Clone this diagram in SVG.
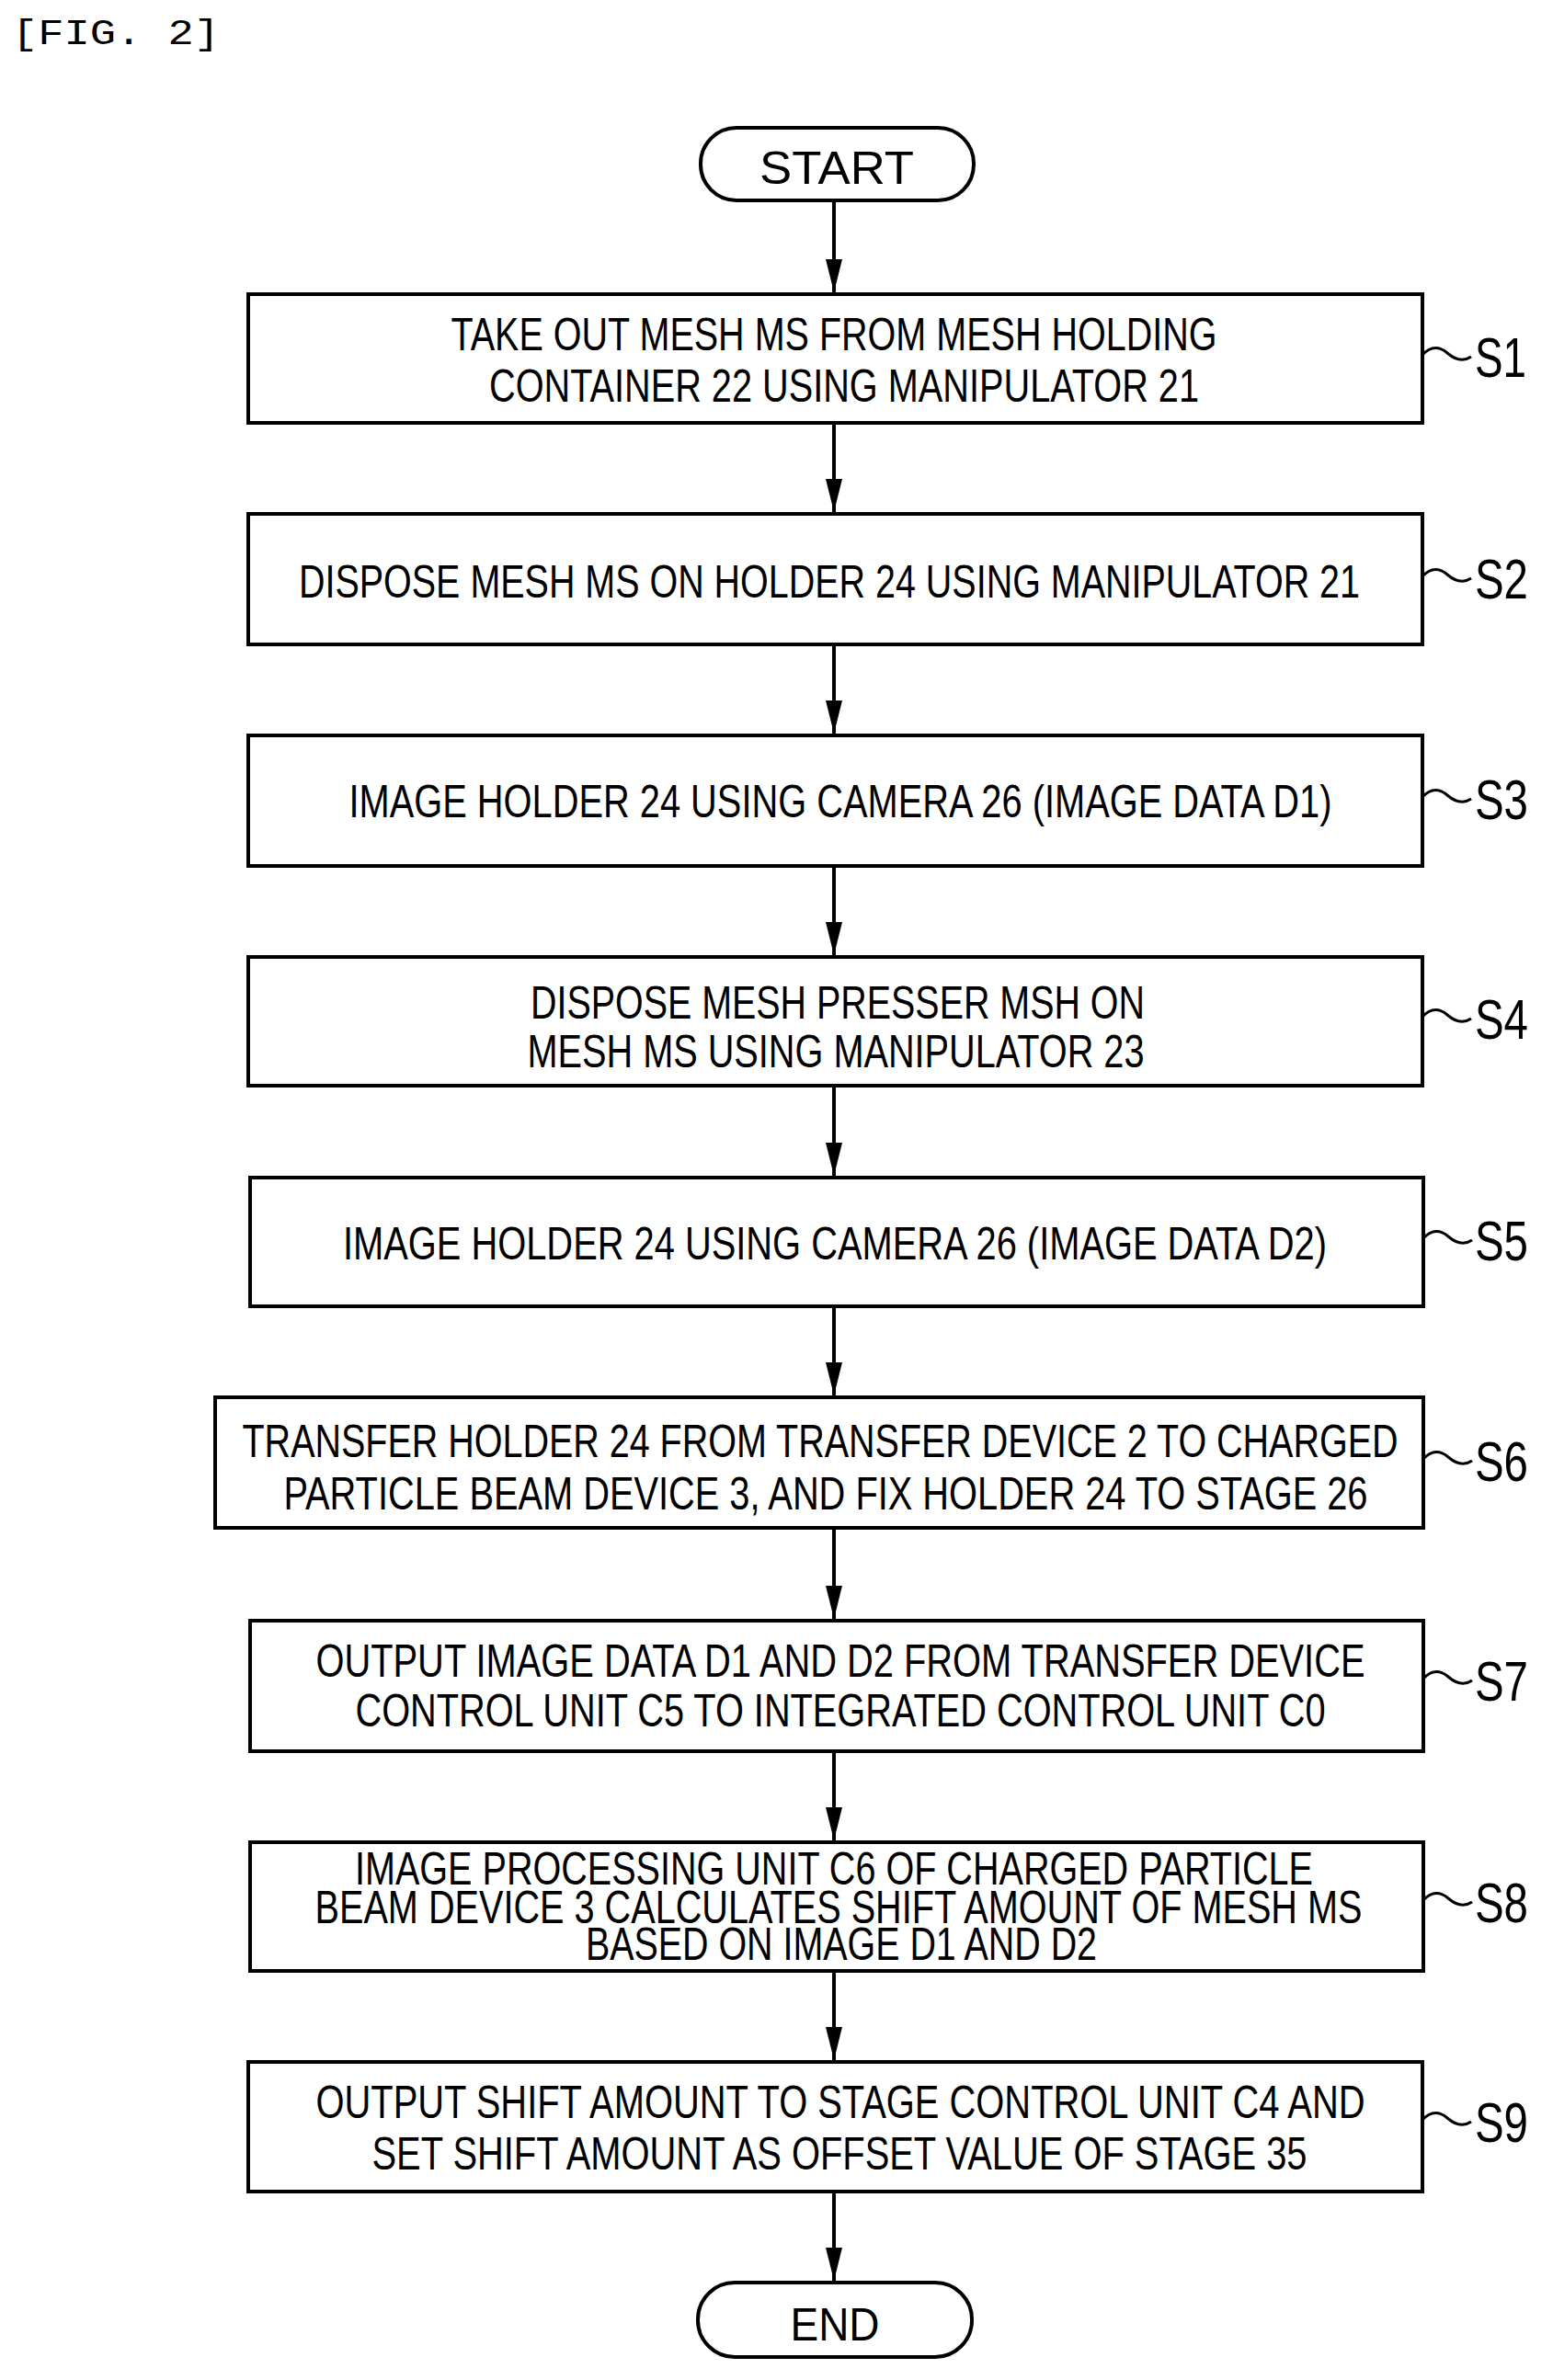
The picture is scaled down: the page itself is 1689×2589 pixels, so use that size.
<svg xmlns="http://www.w3.org/2000/svg" width="1689" height="2589" viewBox="0 0 1689 2589">
<style>
.b{fill:#fff;stroke:#000;stroke-width:4}
.t{font-family:"Liberation Sans",Arial,sans-serif;font-size:50px;text-anchor:middle;fill:#000}
.s{font-family:"Liberation Sans",Arial,sans-serif;font-size:62px;fill:#000}
.c{stroke:#000;stroke-width:4;fill:none}
.w{stroke:#000;stroke-width:3;fill:none}
</style>
<defs><marker id="a" markerUnits="userSpaceOnUse" markerWidth="36" markerHeight="18" refX="36" refY="9" orient="auto" viewBox="0 0 36 18"><path d="M0,0 L36,9 L0,18 Z" fill="#000"/></marker></defs>
<rect width="1689" height="2589" fill="#fff"/>
<text x="13" y="48" font-family="Liberation Mono,monospace" font-size="38" textLength="226" lengthAdjust="spacingAndGlyphs">[FIG. 2]</text>
<g id="connectors">
<line class="c" x1="907" y1="218" x2="907" y2="318" marker-end="url(#a)"/>
<line class="c" x1="907" y1="460" x2="907" y2="557" marker-end="url(#a)"/>
<line class="c" x1="907" y1="701" x2="907" y2="798" marker-end="url(#a)"/>
<line class="c" x1="907" y1="942" x2="907" y2="1039" marker-end="url(#a)"/>
<line class="c" x1="907" y1="1181" x2="907" y2="1279" marker-end="url(#a)"/>
<line class="c" x1="907" y1="1421" x2="907" y2="1518" marker-end="url(#a)"/>
<line class="c" x1="907" y1="1662" x2="907" y2="1761" marker-end="url(#a)"/>
<line class="c" x1="907" y1="1905" x2="907" y2="2002" marker-end="url(#a)"/>
<line class="c" x1="907" y1="2144" x2="907" y2="2241" marker-end="url(#a)"/>
<line class="c" x1="907" y1="2384" x2="907" y2="2481" marker-end="url(#a)"/>
</g>
<g id="start"><rect class="b" x="762" y="139" width="297" height="79" rx="39"/><text class="t" x="910" y="200" textLength="168" lengthAdjust="spacingAndGlyphs" font-size="64">START</text></g>
<g id="s1"><rect class="b" x="270" y="320" width="1277" height="140"/>
<text class="t" x="907" y="381" textLength="833" lengthAdjust="spacingAndGlyphs">TAKE OUT MESH MS FROM MESH HOLDING</text>
<text class="t" x="918" y="437" textLength="772" lengthAdjust="spacingAndGlyphs">CONTAINER 22 USING MANIPULATOR 21</text>
<path class="w" d="M1547,386 q13,-14 27,-2 t26,4"/><text class="s" x="1604" y="410" textLength="56" lengthAdjust="spacingAndGlyphs">S1</text></g>
<g id="s2"><rect class="b" x="270" y="559" width="1277" height="142"/>
<text class="t" x="902" y="650" textLength="1154" lengthAdjust="spacingAndGlyphs">DISPOSE MESH MS ON HOLDER 24 USING MANIPULATOR 21</text>
<path class="w" d="M1547,627 q13,-14 27,-2 t26,4"/><text class="s" x="1604" y="651" textLength="58" lengthAdjust="spacingAndGlyphs">S2</text></g>
<g id="s3"><rect class="b" x="270" y="800" width="1277" height="142"/>
<text class="t" x="914" y="889" textLength="1069" lengthAdjust="spacingAndGlyphs">IMAGE HOLDER 24 USING CAMERA 26 (IMAGE DATA D1)</text>
<path class="w" d="M1547,867 q13,-14 27,-2 t26,4"/><text class="s" x="1604" y="891" textLength="58" lengthAdjust="spacingAndGlyphs">S3</text></g>
<g id="s4"><rect class="b" x="270" y="1041" width="1277" height="140"/>
<text class="t" x="911" y="1108" textLength="668" lengthAdjust="spacingAndGlyphs">DISPOSE MESH PRESSER MSH ON</text>
<text class="t" x="909" y="1161" textLength="671" lengthAdjust="spacingAndGlyphs">MESH MS USING MANIPULATOR 23</text>
<path class="w" d="M1547,1106 q13,-14 27,-2 t26,4"/><text class="s" x="1604" y="1130" textLength="58" lengthAdjust="spacingAndGlyphs">S4</text></g>
<g id="s5"><rect class="b" x="272" y="1281" width="1276" height="140"/>
<text class="t" x="908" y="1370" textLength="1070" lengthAdjust="spacingAndGlyphs">IMAGE HOLDER 24 USING CAMERA 26 (IMAGE DATA D2)</text>
<path class="w" d="M1548,1347 q13,-14 27,-2 t26,4"/><text class="s" x="1604" y="1371" textLength="58" lengthAdjust="spacingAndGlyphs">S5</text></g>
<g id="s6"><rect class="b" x="234" y="1520" width="1314" height="142"/>
<text class="t" x="892" y="1585" textLength="1257" lengthAdjust="spacingAndGlyphs">TRANSFER HOLDER 24 FROM TRANSFER DEVICE 2 TO CHARGED</text>
<text class="t" x="898" y="1642" textLength="1179" lengthAdjust="spacingAndGlyphs">PARTICLE BEAM DEVICE 3, AND FIX HOLDER 24 TO STAGE 26</text>
<path class="w" d="M1548,1587 q13,-14 27,-2 t26,4"/><text class="s" x="1604" y="1611" textLength="58" lengthAdjust="spacingAndGlyphs">S6</text></g>
<g id="s7"><rect class="b" x="272" y="1763" width="1276" height="142"/>
<text class="t" x="914" y="1824" textLength="1141" lengthAdjust="spacingAndGlyphs">OUTPUT IMAGE DATA D1 AND D2 FROM TRANSFER DEVICE</text>
<text class="t" x="914" y="1878" textLength="1055" lengthAdjust="spacingAndGlyphs">CONTROL UNIT C5 TO INTEGRATED CONTROL UNIT C0</text>
<path class="w" d="M1548,1826 q13,-14 27,-2 t26,4"/><text class="s" x="1604" y="1850" textLength="58" lengthAdjust="spacingAndGlyphs">S7</text></g>
<g id="s8"><rect class="b" x="272" y="2004" width="1276" height="140"/>
<text class="t" x="907" y="2050" textLength="1042" lengthAdjust="spacingAndGlyphs">IMAGE PROCESSING UNIT C6 OF CHARGED PARTICLE</text>
<text class="t" x="912" y="2092" textLength="1139" lengthAdjust="spacingAndGlyphs">BEAM DEVICE 3 CALCULATES SHIFT AMOUNT OF MESH MS</text>
<text class="t" x="915" y="2132" textLength="556" lengthAdjust="spacingAndGlyphs">BASED ON IMAGE D1 AND D2</text>
<path class="w" d="M1548,2067 q13,-14 27,-2 t26,4"/><text class="s" x="1604" y="2091" textLength="58" lengthAdjust="spacingAndGlyphs">S8</text></g>
<g id="s9"><rect class="b" x="270" y="2243" width="1277" height="141"/>
<text class="t" x="914" y="2304" textLength="1141" lengthAdjust="spacingAndGlyphs">OUTPUT SHIFT AMOUNT TO STAGE CONTROL UNIT C4 AND</text>
<text class="t" x="913" y="2360" textLength="1017" lengthAdjust="spacingAndGlyphs">SET SHIFT AMOUNT AS OFFSET VALUE OF STAGE 35</text>
<path class="w" d="M1547,2306 q13,-14 27,-2 t26,4"/><text class="s" x="1604" y="2330" textLength="58" lengthAdjust="spacingAndGlyphs">S9</text></g>
<g id="end"><rect class="b" x="759" y="2483" width="298" height="81" rx="40"/><text class="t" x="908" y="2546" textLength="97" lengthAdjust="spacingAndGlyphs" font-size="64">END</text></g>
</svg>
